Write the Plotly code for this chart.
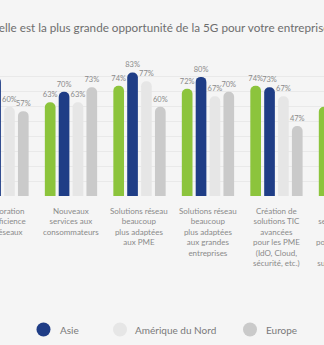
import plotly.graph_objects as go

# Survey answers by region (percent of respondents)
categories = [
    "Amélioration<br>de l'efficience<br>des réseaux",
    "Nouveaux<br>services aux<br>consommateurs",
    "Solutions réseau<br>beaucoup<br>plus adaptées<br>aux PME",
    "Solutions réseau<br>beaucoup<br>plus adaptées<br>aux grandes<br>entreprises",
    "Création de<br>solutions TIC<br>avancées<br>pour les PME<br>(IdO, Cloud,<br>sécurité, etc.)",
    "Nouvelles<br>services dédiés<br>avancés<br>pour les grandes<br>entreprises<br>sur mesure, etc.",
]
global_vals = [68, 63, 74, 72, 74, 60]
asia_vals = [80, 70, 83, 80, 73, 66]
north_america_vals = [60, 63, 77, 67, 67, 55]
europe_vals = [57, 73, 60, 70, 47, 52]

series_names = ["Global", "Asie", "Amérique du Nord", "Europe"]
series_values = [global_vals, asia_vals, north_america_vals, europe_vals]
series_colors = ["#8cc43c", "#1f3d86", "#e6e6e6", "#cacaca"]

title_text = "Selon vous, quelle est la plus grande opportunité de la 5G pour votre entreprise ?"

W, H = 324, 345
TOP, BOTTOM = 62, 196          # plot area in pixels
PLOT_H = BOTTOM - TOP
X_RANGE = [-0.0365, 4.694]

BG = "#f5f5f5"
TEXT_GREY = "#8a8a8a"
FONT = "Lato"

fig = go.Figure()
for name, vals, color in zip(series_names, series_values, series_colors):
    fig.add_trace(go.Bar(
        x=list(range(len(categories))), y=vals, name=name,
        marker=dict(color=color, line=dict(width=0)),
        texttemplate="%{y}%", textposition="outside", constraintext="none",
        textfont=dict(family=FONT, size=7.5, color=TEXT_GREY),
        cliponaxis=False, hoverinfo="skip", showlegend=False,
    ))

shapes = []
annotations = []

# Category labels under each group (paper-anchored so partly visible ones still show)
for i, label in enumerate(categories):
    annotations.append(dict(
        text=label, xref="paper", yref="paper",
        x=(i - X_RANGE[0]) / (X_RANGE[1] - X_RANGE[0]), y=0,
        xanchor="center", yanchor="top", yshift=-8, align="center",
        showarrow=False, font=dict(family=FONT, size=8, color=TEXT_GREY),
    ))

# Legend: round swatches with their labels
legend_items = [("Asie", 43.5, 58), ("Amérique du Nord", 120, 133), ("Europe", 250, 264)]
legend_y = (BOTTOM - 329.5) / PLOT_H
for (label, cx, tx) in legend_items:
    color = series_colors[series_names.index(label)]
    shapes.append(dict(
        type="circle", xref="paper", yref="paper",
        xsizemode="pixel", ysizemode="pixel",
        xanchor=cx / W, yanchor=legend_y,
        x0=-7, x1=7, y0=-7, y1=7,
        fillcolor=color, line=dict(width=0),
    ))
    annotations.append(dict(
        text=label, xref="paper", yref="paper",
        x=tx / W, y=legend_y, xanchor="left", yanchor="middle",
        showarrow=False, font=dict(family=FONT, size=10, color="#7a7a7a"),
    ))

annotations.append(dict(
    text=title_text, xref="paper", yref="paper",
    x=-77 / W, y=(BOTTOM - 27) / PLOT_H, xanchor="left", yanchor="middle",
    showarrow=False, font=dict(family=FONT, size=11.7, color="#6e6e6e"),
))

fig.update_layout(
    width=W, height=H,
    margin=dict(l=0, r=0, t=TOP, b=H - BOTTOM, pad=0, autoexpand=False),
    paper_bgcolor=BG, plot_bgcolor=BG,
    barmode="group", bargap=0.19, bargroupgap=0.23, barcornerradius=5,
    shapes=shapes, annotations=annotations,
    showlegend=False,
)
fig.update_xaxes(
    range=X_RANGE, showgrid=False, zeroline=False, showline=False,
    automargin=False, showticklabels=False, ticks="",
)
fig.update_yaxes(
    range=[0, 90], dtick=10, showgrid=True, gridcolor="#e9e9e9", gridwidth=1,
    zeroline=False, showticklabels=False, ticks="", automargin=False,
)

fig.write_html("out.html")
